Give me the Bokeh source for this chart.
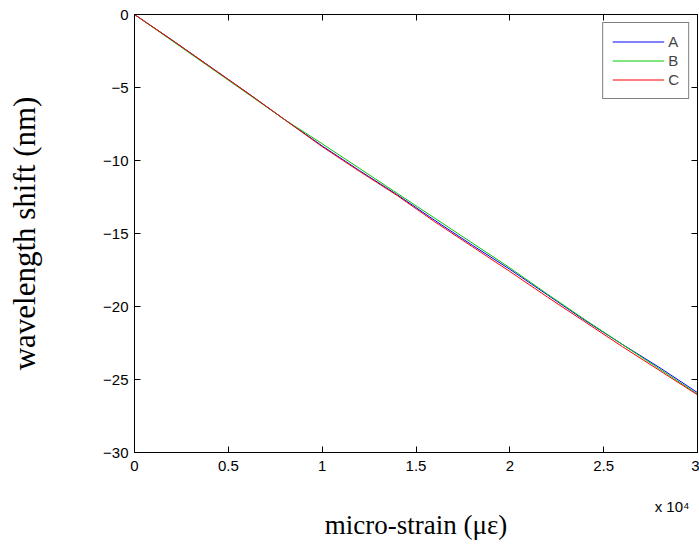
from bokeh.plotting import figure
from bokeh.models import (LinearAxis, FixedTicker, Range1d, Legend, LegendItem,
                          Title, CustomJSTickFormatter)
from bokeh.embed import file_html
from bokeh.resources import INLINE

# ---- data ----
strain = [0, 2000, 4000, 6000, 8000, 10000, 12000, 14000, 16000,
          18000, 20000, 22000, 24000, 26000, 28000, 30000]
shift_A = [0, -1.75, -3.55, -5.35, -7.2, -9.0, -10.7, -12.35, -14.1,
           -15.8, -17.45, -19.2, -20.95, -22.6, -24.2, -25.9]
shift_B = [0, -1.8, -3.6, -5.4, -7.2, -8.85, -10.55, -12.25, -13.95,
           -15.65, -17.35, -19.15, -20.9, -22.6, -24.3, -26.0]
shift_C = [0, -1.75, -3.55, -5.35, -7.2, -9.05, -10.75, -12.4, -14.2,
           -15.9, -17.6, -19.35, -21.05, -22.75, -24.4, -26.05]
series_names = ["A", "B", "C"]
series_colors = ["#0000ff", "#00c800", "#ff0000"]

x_ticks = [0, 5000, 10000, 15000, 20000, 25000, 30000]
x_tick_labels = ["0", "0.5", "1", "1.5", "2", "2.5", "3"]
y_ticks = [-30, -25, -20, -15, -10, -5, 0]
x_multiplier = "x 10\u2074"
x_label = "micro-strain (\u03bc\u03b5)"
y_label = "wavelength shift (nm)"

TICK_FONT = "Liberation Sans"
LABEL_FONT = "Liberation Serif"

p = figure(width=699, height=546, output_backend="svg", toolbar_location=None,
           x_range=Range1d(0, 30000), y_range=Range1d(-30, 0),
           x_axis_type=None, y_axis_type=None,
           min_border_left=134, min_border_right=2, min_border_top=14,
           min_border_bottom=94)
p.grid.visible = False
p.outline_line_color = "black"
p.background_fill_color = "white"
p.border_fill_color = "white"

def style_axis(ax, ticks, show_labels):
    ax.ticker = FixedTicker(ticks=ticks)
    ax.major_tick_in = 6
    ax.major_tick_out = 0
    ax.minor_tick_line_color = None
    ax.axis_line_color = "black"
    ax.major_tick_line_color = "black"
    ax.major_label_text_font = TICK_FONT
    ax.major_label_text_color = "black"
    if show_labels:
        ax.major_label_text_font_size = "15px"
    else:
        ax.major_label_text_font_size = "0px"
        ax.major_label_standoff = 0

xb = LinearAxis()
style_axis(xb, x_ticks, True)
xb.major_label_overrides = {t: l for t, l in zip(x_ticks, x_tick_labels)}
xb.major_label_standoff = 8
p.add_layout(xb, "below")

p.add_layout(Title(text=x_multiplier, align="right", offset=8, standoff=44,
                   vertical_align="bottom",
                   text_font=TICK_FONT, text_font_size="15px",
                   text_font_style="normal", text_color="black"), "below")
p.add_layout(Title(text=x_label, align="center", standoff=-53,
                   vertical_align="top",
                   text_font=LABEL_FONT, text_font_size="27px",
                   text_font_style="normal", text_color="black"), "below")

yl = LinearAxis()
style_axis(yl, y_ticks, True)
yl.major_label_standoff = 6
yl.axis_label = y_label
yl.axis_label_text_font = LABEL_FONT
yl.axis_label_text_font_size = "31px"
yl.axis_label_text_font_style = "normal"
yl.axis_label_text_color = "black"
yl.axis_label_standoff = 58
p.add_layout(yl, "left")

xt = LinearAxis(formatter=CustomJSTickFormatter(code="return ''"))
style_axis(xt, x_ticks, False)
p.add_layout(xt, "above")
yr = LinearAxis(formatter=CustomJSTickFormatter(code="return ''"))
style_axis(yr, y_ticks, False)
p.add_layout(yr, "right")

renderers = []
for ys, c in zip([shift_A, shift_B, shift_C], series_colors):
    renderers.append(p.line(strain, ys, line_color=c, line_width=1))

legend = Legend(items=[LegendItem(label=n, renderers=[r])
                       for n, r in zip(series_names, renderers)],
                location="top_right")
legend.margin = 8
legend.padding = 9
legend.spacing = 0
legend.glyph_width = 52
legend.glyph_height = 19
legend.label_height = 19
legend.label_width = 10
legend.label_standoff = 4
legend.label_text_font = TICK_FONT
legend.label_text_font_size = "15px"
legend.border_line_color = "black"
legend.border_line_width = 1
legend.background_fill_alpha = 1
p.add_layout(legend, "center")

open("out.html", "w").write(file_html(p, INLINE))
